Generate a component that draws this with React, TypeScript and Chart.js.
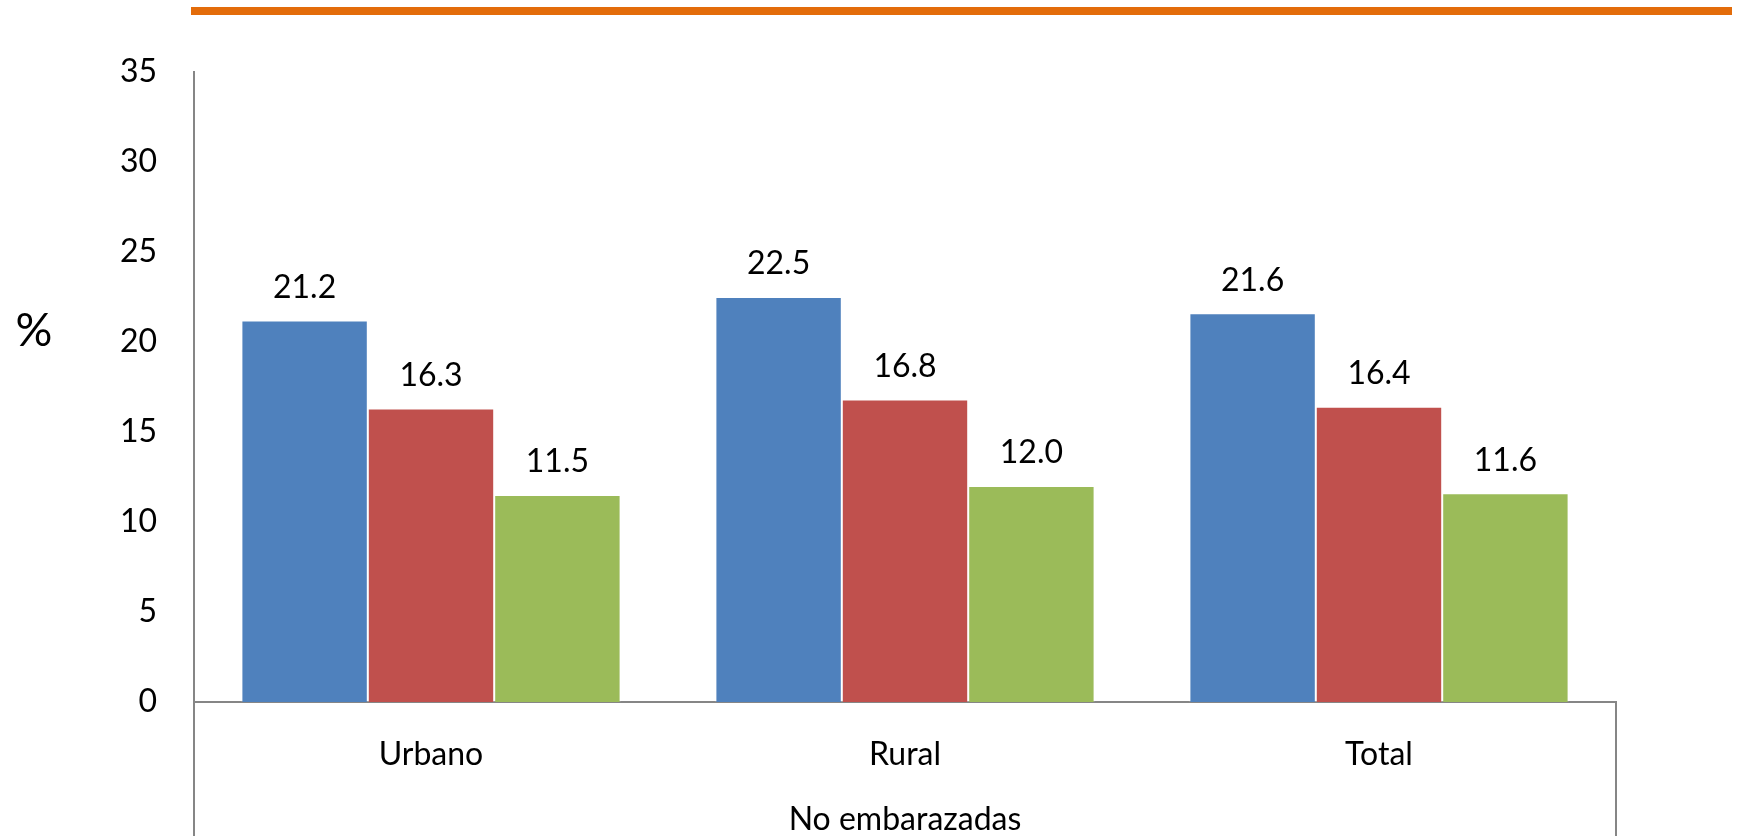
import React, { useEffect, useRef } from "react";
import { Chart, registerables } from "chart.js";

Chart.register(...registerables);

const categories = ["Urbano", "Rural", "Total"];
const seriesA = [21.2, 22.5, 21.6];
const seriesB = [16.3, 16.8, 16.4];
const seriesC = [11.5, 12.0, 11.6];
const seriesColors = ["#4F81BD", "#C0504D", "#9BBB59"];
const yTicks = [0, 5, 10, 15, 20, 25, 30, 35];
const axisTitle = "No embarazadas";
const unitLabel = "%";

const W = 1739;
const H = 836;
const FONT = "Lato, 'Noto Sans', sans-serif";
const AXIS_COLOR = "#868686";

const decorPlugin = {
  id: "decor",
  beforeDraw(chart: any) {
    const { ctx } = chart;
    ctx.save();
    ctx.fillStyle = "#ffffff";
    ctx.fillRect(0, 0, chart.width, chart.height);
    ctx.fillStyle = "#E36C0A";
    ctx.fillRect(191, 7, 1541, 8);
    ctx.restore();
  },
  afterDraw(chart: any) {
    const { ctx, chartArea } = chart;
    ctx.save();
    ctx.strokeStyle = AXIS_COLOR;
    ctx.lineWidth = 2;
    ctx.beginPath();
    ctx.moveTo(chartArea.left, chartArea.bottom);
    ctx.lineTo(chartArea.left, chart.height);
    ctx.moveTo(chartArea.right, chartArea.bottom - 1);
    ctx.lineTo(chartArea.right, chart.height);
    ctx.stroke();

    // unit label
    ctx.fillStyle = "#000";
    ctx.font = `46px ${FONT}`;
    ctx.textAlign = "center";
    ctx.textBaseline = "middle";
    const yScale = chart.scales.y;
    ctx.fillText(unitLabel, 34, yScale.getPixelForValue(20.6));

    // data labels
    ctx.font = `32px ${FONT}`;
    chart.data.datasets.forEach((ds: any, di: number) => {
      const meta = chart.getDatasetMeta(di);
      meta.data.forEach((bar: any, i: number) => {
        const v = ds.data[i];
        ctx.fillText(v.toFixed(1), bar.x, bar.y - 33);
      });
    });
    ctx.restore();
  },
};

export default function App() {
  const ref = useRef<HTMLCanvasElement | null>(null);

  useEffect(() => {
    document.body.style.margin = "0";
    const canvas = ref.current!;
    const chart = new Chart(canvas, {
      type: "bar",
      data: {
        labels: categories,
        datasets: [seriesA, seriesB, seriesC].map((d, i) => ({
          label: `s${i}`,
          data: d,
          backgroundColor: seriesColors[i],
          borderColor: "rgba(255,255,255,0.3)",
          borderWidth: 1,
          categoryPercentage: 0.8,
          barPercentage: 1.0,
        })),
      },
      options: {
        responsive: false,
        animation: false,
        events: [],
        layout: { padding: { top: 72, left: 0, right: 123, bottom: 0 } },
        plugins: {
          legend: { display: false },
          tooltip: { enabled: false },
          title: { display: false },
        },
        scales: {
          y: {
            min: 0,
            max: 35,
            afterBuildTicks: (scale: any) => {
              scale.ticks = yTicks.map((v) => ({ value: v }));
            },
            afterFit: (scale: any) => {
              scale.width = 194;
            },
            grid: { display: false, drawTicks: false },
            border: { display: true, color: AXIS_COLOR, width: 2 },
            ticks: {
              color: "#000",
              padding: 37,
              font: { family: FONT, size: 32 },
            },
          },
          x: {
            afterFit: (scale: any) => {
              scale.height = 134;
            },
            grid: { display: false, drawTicks: false },
            border: { display: true, color: AXIS_COLOR, width: 2 },
            ticks: {
              color: "#000",
              padding: 33,
              maxRotation: 0,
              font: { family: FONT, size: 32 },
            },
            title: {
              display: true,
              text: axisTitle,
              color: "#000",
              padding: { top: 0, bottom: 0 },
              font: { family: FONT, size: 32, lineHeight: 1 },
            },
          },
        },
      },
      plugins: [decorPlugin],
    });
    return () => chart.destroy();
  }, []);

  return (
    <div style={{ position: "absolute", left: 0, top: 0, width: W, height: H }}>
      <canvas ref={ref} width={W} height={H} style={{ display: "block" }} />
    </div>
  );
}
